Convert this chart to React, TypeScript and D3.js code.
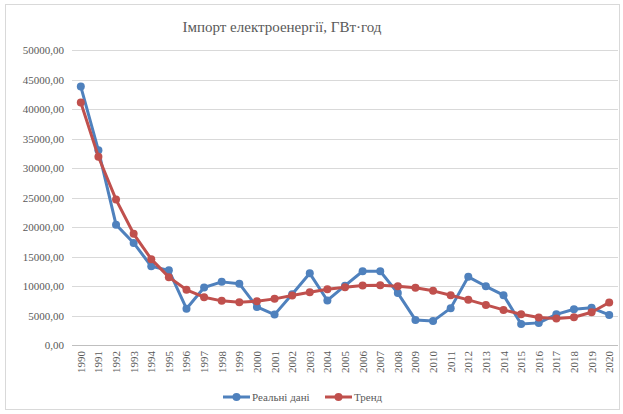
import React from "react";
import * as d3 from "d3";

const years = d3.range(1990, 2021).map(String);
const realValues = [43800, 33000, 20400, 17300, 13350, 12650, 6150, 9750, 10700, 10400, 6450, 5150, 8600, 12150, 7550, 10050, 12500, 12500, 8800, 4250, 4050, 6250, 11550, 9950, 8450, 3550, 3750, 5200, 6050, 6300, 5100];
const trendValues = [41100, 31900, 24650, 18850, 14550, 11500, 9350, 8100, 7480, 7250, 7420, 7820, 8390, 8950, 9460, 9800, 10090, 10140, 9970, 9690, 9180, 8440, 7650, 6800, 5950, 5210, 4650, 4480, 4700, 5550, 7200];
const yTicks = d3.range(0, 50001, 5000);
const seriesNames = ["Реальні дані", "Тренд"];
const colors = ["#4F81BD", "#C0504D"];

const W = 623, H = 414;
const left = 72, right = 618, top = 50, bottom = 345;

export default function App() {
  const x = d3.scaleBand().domain(years).range([left, right]);
  const y = d3.scaleLinear().domain([0, 50000]).range([bottom, top]);
  const fmt = (v: number) => v.toFixed(2).replace(".", ",");
  const line = d3.line<number>().x((_, i) => x(years[i])! + x.bandwidth() / 2).y(d => y(d));
  const series = [realValues, trendValues];
  const font = "'Liberation Serif', 'Times New Roman', serif";
  return (
    <svg width={W} height={H} style={{ position: "absolute", left: 0, top: 0 }} fontFamily={font}>
      <rect x={0} y={0} width={W} height={H} fill="#fff" />
      <rect x={5.5} y={4.5} width={614} height={405} fill="#fff" stroke="#d9d9d9" />
      <text x={282} y={32} textAnchor="middle" fontSize={15} fill="#595959">Імпорт електроенергії, ГВт·год</text>
      {yTicks.map(t => (
        <g key={t}>
          <line x1={left} x2={right} y1={Math.round(y(t)) + 0.5} y2={Math.round(y(t)) + 0.5} stroke={t === 0 ? "#bfbfbf" : "#d9d9d9"} />
          <text x={64} y={y(t) + 4} textAnchor="end" fontSize={11} fill="#595959">{fmt(t)}</text>
        </g>
      ))}
      {years.map(yr => {
        const cx = x(yr)! + x.bandwidth() / 2;
        return (
          <text key={yr} transform={`translate(${cx + 4},${351}) rotate(-90)`} textAnchor="end" fontSize={11} fill="#595959">{yr}</text>
        );
      })}
      {series.map((s, si) => (
        <g key={si}>
          <path d={line(s)!} fill="none" stroke={colors[si]} strokeWidth={3} strokeLinejoin="round" />
          {s.map((v, i) => (
            <circle key={i} cx={x(years[i])! + x.bandwidth() / 2} cy={y(v)} r={4} fill={colors[si]} />
          ))}
        </g>
      ))}
      {seriesNames.map((n, i) => {
        const lx = i === 0 ? 223 : 325;
        return (
          <g key={n}>
            <line x1={lx} x2={lx + 27} y1={397} y2={397} stroke={colors[i]} strokeWidth={3} />
            <circle cx={lx + 13.5} cy={397} r={4} fill={colors[i]} />
            <text x={lx + 29} y={401} fontSize={11} fill="#595959">{n}</text>
          </g>
        );
      })}
    </svg>
  );
}
